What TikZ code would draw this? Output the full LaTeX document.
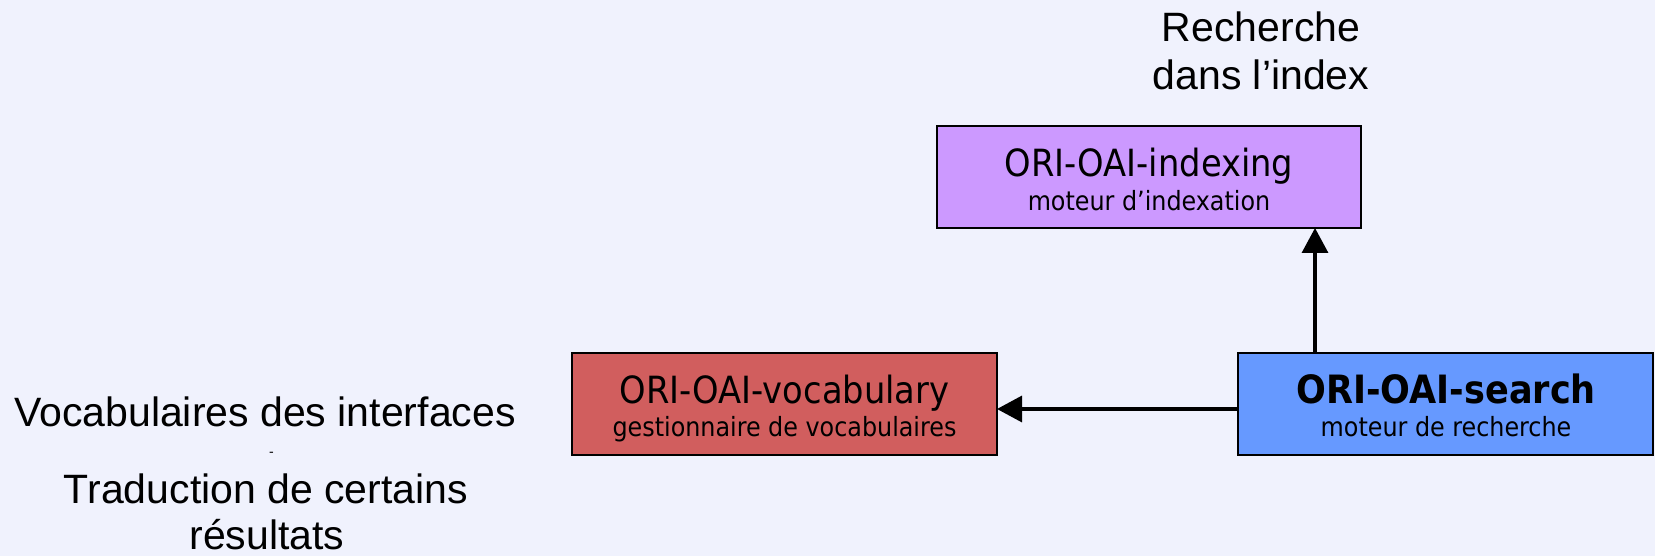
\documentclass[tikz,border=0pt]{standalone}
\usepackage{fontspec}
\setmainfont{Liberation Sans}
\newfontfamily\boxfont{DejaVu Sans Condensed}
\usetikzlibrary{arrows.meta}
\definecolor{bgc}{RGB}{240,242,253}
\definecolor{idxc}{RGB}{204,153,255}
\definecolor{vocc}{RGB}{209,94,94}
\definecolor{schc}{RGB}{102,153,255}
\tikzset{
  modbox/.style={draw=black, line width=1.9pt, inner sep=0pt, outer sep=0pt, anchor=north west, minimum height=102pt},
  ttl/.style={font=\boxfont\fontsize{37.5}{40}\selectfont, inner sep=0pt, anchor=base},
  sub/.style={font=\boxfont\fontsize{26.5}{30}\selectfont, inner sep=0pt, anchor=base},
  lbl/.style={font=\fontsize{41}{48}\selectfont, inner sep=0pt, anchor=base},
  conn/.style={line width=3.3pt, -{Triangle[length=25pt,width=26pt]}},
}
\begin{document}
\begin{tikzpicture}[x=1pt,y=-1pt]
\fill[bgc] (0,0) rectangle (1655,556);
\useasboundingbox (0,0) rectangle (1655,556);
% boxes
\node[modbox, fill=idxc, minimum width=424pt] (idx) at (937,126) {};
\node[modbox, fill=vocc, minimum width=425pt] (voc) at (572,353) {};
\node[modbox, fill=schc, minimum width=415pt] (sch) at (1238,353) {};
\coordinate (colx) at (1315,0);
\coordinate (rowy) at (0,409);
% texts in boxes
\node[ttl] (idxt) at (1149,177) {ORI-OAI-indexing};
\node[sub] (idxs) at (1149,211) {moteur d’indexation};
\node[ttl] (voct) at (784.5,403.5) {ORI-OAI-vocabulary};
\node[sub] (vocs) at (784.5,436) {gestionnaire de vocabulaires};
\node[ttl, font=\boxfont\bfseries\fontsize{39}{40}\selectfont] (scht) at (1446,403.5) {ORI-OAI-search};
\node[sub] (schs) at (1446,436) {moteur de recherche};
% connectors
\draw[conn] (sch.north -| colx) -- (idx.south -| colx);
\draw[conn] (sch.west |- rowy) -- (voc.east |- rowy);
% labels
\node[lbl] (rech1) at (1261,42) {Recherche};
\node[lbl] (rech2) at (1261,90) {dans l’index};
\node[lbl] (voc1) at (265,426) {Vocabulaires des interfaces};
\node[lbl, font=\fontsize{14}{16}\selectfont] (dash) at (271.5,456) {-};
\node[lbl] (trad1) at (266,503) {Traduction de certains};
\node[lbl] (trad2) at (267,549) {résultats};
\end{tikzpicture}
\end{document}
